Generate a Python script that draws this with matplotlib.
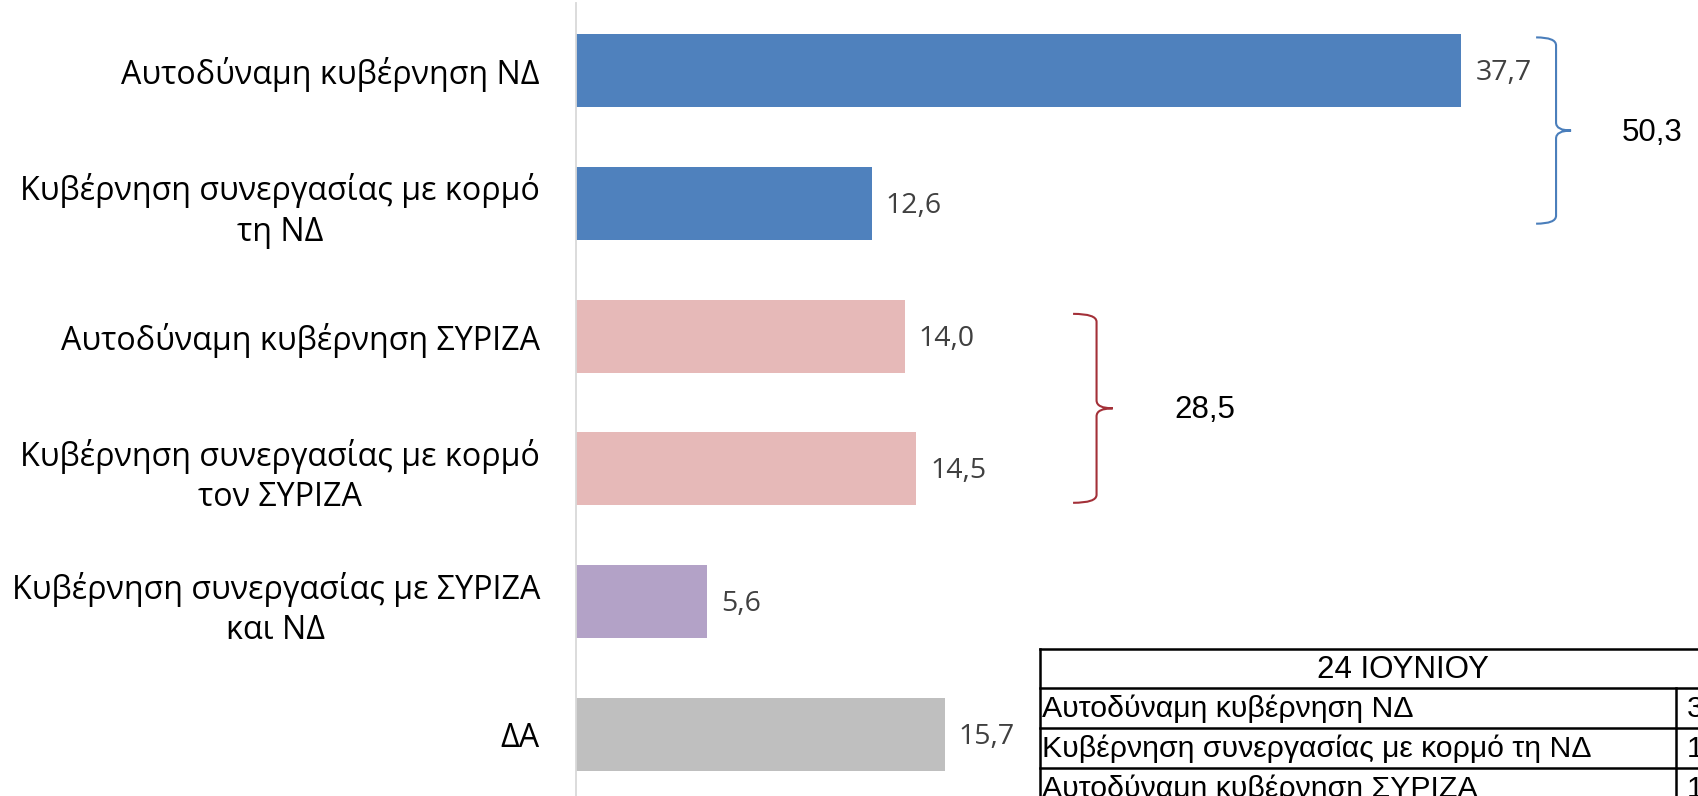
import matplotlib.pyplot as plt
from matplotlib.path import Path
from matplotlib.patches import PathPatch

# δεδομένα
categories = ['Αυτοδύναμη κυβέρνηση ΝΔ',
              'Κυβέρνηση συνεργασίας με κορμό\nτη ΝΔ',
              'Αυτοδύναμη κυβέρνηση ΣΥΡΙΖΑ',
              'Κυβέρνηση συνεργασίας με κορμό\nτον ΣΥΡΙΖΑ',
              'Κυβέρνηση συνεργασίας με ΣΥΡΙΖΑ\nκαι ΝΔ',
              'ΔΑ']
values = [37.7, 12.6, 14.0, 14.5, 5.6, 15.7]
colors = ['#4F81BD', '#4F81BD', '#E6B9B8', '#E6B9B8', '#B3A2C7', '#BFBFBF']
table_title = '24 ΙΟΥΝΙΟΥ'

W, H = 1699, 796
fig = plt.figure(figsize=(W / 100, H / 100), dpi=100)

ax_left = 576
px_per_unit = 23.48
ax = fig.add_axes([ax_left / W, 0, 1 - ax_left / W, 793 / H])
ax.set_xlim(0, (W - ax_left) / px_per_unit)
ax.set_ylim(5.464, -0.508)

y = list(range(len(categories)))
ax.barh(y, values, height=0.55, color=colors)

for i, v in enumerate(values):
    ax.text(v + 0.6, i + 0.02, f'{v:.1f}'.replace('.', ','), va='center', ha='left',
            fontsize=20.5, color='#404040', family=['Open Sans', 'DejaVu Sans'])

ax.set_yticks(y)
ax.set_yticklabels(categories, fontsize=23.2, family=['Open Sans', 'DejaVu Sans'],
                   linespacing=1.3, multialignment='center')
ax.tick_params(axis='y', length=0, pad=26)
ax.set_xticks([])
for s in ['top', 'right', 'bottom']:
    ax.spines[s].set_visible(False)
ax.spines['left'].set_color('#D9D9D9')
ax.spines['left'].set_linewidth(1.3)


# άγκιστρα
def brace(x0, x1, x2, ytop, ybot, color):
    ymid = (ytop + ybot) / 2
    h = 0.06
    verts = [(x0, ytop), (x1, ytop), (x1, ytop + h),
             (x1, ymid - h), (x1, ymid), (x2, ymid),
             (x1, ymid), (x1, ymid + h),
             (x1, ybot - h), (x1, ybot), (x0, ybot)]
    codes = [Path.MOVETO, Path.CURVE3, Path.CURVE3,
             Path.LINETO, Path.CURVE3, Path.CURVE3,
             Path.CURVE3, Path.CURVE3,
             Path.LINETO, Path.CURVE3, Path.CURVE3]
    ax.add_patch(PathPatch(Path(verts, codes), fill=False, edgecolor=color,
                           linewidth=1.5, clip_on=False))
    return ymid


m1 = brace(40.89, 41.74, 42.38, -0.249, 1.154, '#4A7EBB')
ax.text(44.55, m1 + 0.015, f'{values[0] + values[1]:.1f}'.replace('.', ','),
        va='center', ha='left', fontsize=22.5, family='Liberation Sans')
m2 = brace(21.17, 22.17, 22.86, 1.833, 3.256, '#A33038')
ax.text(25.5, m2 + 0.015, f'{values[2] + values[3]:.1f}'.replace('.', ','),
        va='center', ha='left', fontsize=22.5, family='Liberation Sans')

# πίνακας κάτω δεξιά
tx = fig.add_axes([0, 0, 1, 1], zorder=3)
tx.set_xlim(0, W)
tx.set_ylim(H, 0)
tx.axis('off')
t_left, t_right, t_top, col_x = 1040, 1766, 649, 1676
rows = [t_top, 688, 728, 768, 808]
lw = 1.8
tx.plot([t_left, t_left], [t_top, H + 20], color='black', lw=lw)
tx.plot([t_right, t_right], [t_top, H + 20], color='black', lw=lw)
for r in rows:
    tx.plot([t_left, t_right], [r, r], color='black', lw=lw)
tx.plot([col_x, col_x], [rows[1], H + 20], color='black', lw=lw)
tx.text((t_left + t_right) / 2, (rows[0] + rows[1]) / 2 + 1, table_title,
        ha='center', va='center', fontsize=22.5, family='Liberation Sans')
for k in range(3):
    yc = (rows[k + 1] + rows[k + 2]) / 2 + 1
    tx.text(t_left + 2, yc, categories[k].replace('\n', ' '), ha='left', va='center',
            fontsize=21.8, family='Liberation Sans')
    tx.text(col_x + 11, yc, f'{values[k]:.1f}'.replace('.', ','), ha='left',
            va='center', fontsize=21.8, family='Liberation Sans')

fig.savefig('out.png', dpi=100)
